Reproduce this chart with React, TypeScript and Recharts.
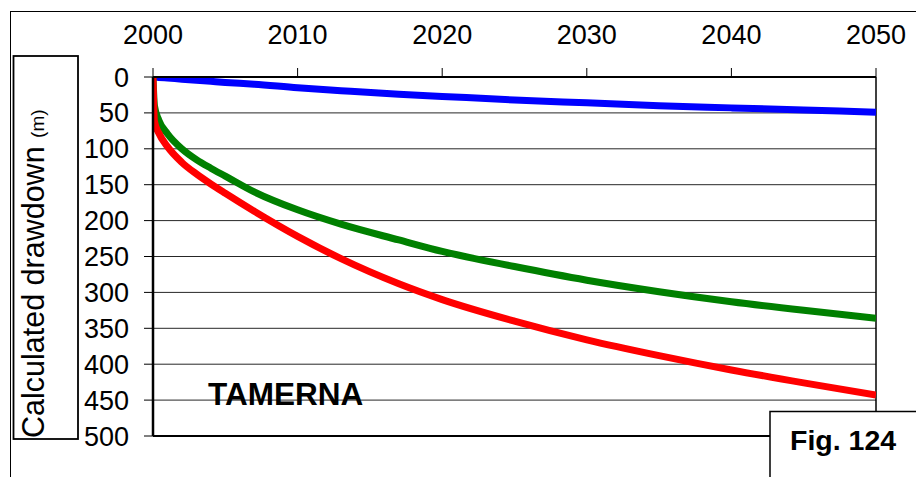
import React from 'react';
import { LineChart, Line, XAxis, YAxis, CartesianGrid, ReferenceLine } from 'recharts';

const years = [2000, 2000.1, 2000.4, 2001, 2002, 2003, 2004, 2005, 2007, 2010, 2013, 2017, 2020, 2025, 2030, 2035, 2040, 2045, 2050];
const blueSeries = [0, 0.2, 0.6, 1.5, 3, 4.5, 6, 7.5, 10, 15, 19, 24, 27, 32, 36, 40, 43, 46, 49];
const greenSeries = [0, 40, 60, 79, 100, 115, 127, 138, 160, 185, 205, 227, 243, 264, 283, 299, 313, 325, 336];
const redSeries = [0, 62, 78, 97, 119, 135, 149, 162, 187, 222, 253, 288, 310, 340, 366, 388, 408, 426, 443];

const xTicks = [2000, 2010, 2020, 2030, 2040, 2050];
const yTicks = [0, 50, 100, 150, 200, 250, 300, 350, 400, 450, 500];

const data = years.map((y, i) => ({ year: y, blue: blueSeries[i], green: greenSeries[i], red: redSeries[i] }));

const FONT = '"Liberation Sans", Arial, sans-serif';

export default function App() {
  return (
    <div style={{ position: 'absolute', left: 0, top: 0, width: 916, height: 477, overflow: 'hidden', background: '#fff' }}>
      <div style={{ position: 'absolute', left: 10, top: 11, width: 1000, height: 600, borderLeft: '1px solid #000', borderTop: '1px solid #000' }} />
      <div style={{ position: 'absolute', left: 0, top: 0 }}>
        <LineChart width={916} height={477} data={data} margin={{ top: 0, right: 40, bottom: 41, left: 0 }}>
          <CartesianGrid horizontal={true} vertical={false} stroke="#000" strokeWidth={1} strokeOpacity={0.85} />
          <XAxis
            dataKey="year"
            type="number"
            orientation="top"
            domain={[2000, 2050]}
            ticks={xTicks}
            interval={0}
            height={77}
            allowDataOverflow
            tickSize={9}
            tickMargin={24}
            axisLine={{ stroke: '#000', strokeWidth: 2 }}
            tickLine={{ stroke: '#000', strokeWidth: 1 }}
            tick={{ fill: '#000', fontSize: 27, fontFamily: FONT }}
          />
          <YAxis
            type="number"
            reversed
            domain={[0, 500]}
            ticks={yTicks}
            interval={0}
            width={153}
            allowDataOverflow
            tickSize={9}
            tickMargin={15}
            axisLine={{ stroke: '#000', strokeWidth: 2.5 }}
            tickLine={{ stroke: '#000', strokeWidth: 1 }}
            tick={{ fill: '#000', fontSize: 27, fontFamily: FONT }}
          />
          <ReferenceLine y={500} stroke="#000" strokeWidth={2} />
          <ReferenceLine x={2050} stroke="#000" strokeWidth={1.5} />
          <Line type="monotone" dataKey="blue" stroke="#0000FF" strokeWidth={7} dot={false} isAnimationActive={false} />
          <Line type="monotone" dataKey="green" stroke="#008000" strokeWidth={7} dot={false} isAnimationActive={false} />
          <Line type="monotone" dataKey="red" stroke="#FF0000" strokeWidth={7} dot={false} isAnimationActive={false} />
        </LineChart>
      </div>
      <svg width={916} height={477} style={{ position: 'absolute', left: 0, top: 0, pointerEvents: 'none' }}>
        <rect x={13.5} y={56} width={64.5} height={383} fill="none" stroke="#000" strokeWidth={1.8} />
        <text transform="translate(44,438) rotate(-90)" fontFamily={FONT} fontSize={30.5} fill="#000">
          Calculated drawdown <tspan fontSize={19}>(m)</tspan>
        </text>
        <text x={208} y={405} fontFamily={FONT} fontSize={31.5} fontWeight="bold" fill="#000">TAMERNA</text>
        <rect x={770} y={411.5} width={170} height={90} fill="#fff" stroke="#000" strokeWidth={1.5} />
        <text x={790} y={450} fontFamily={FONT} fontSize={28.5} fontWeight="bold" fill="#000">Fig. 124</text>
      </svg>
    </div>
  );
}
